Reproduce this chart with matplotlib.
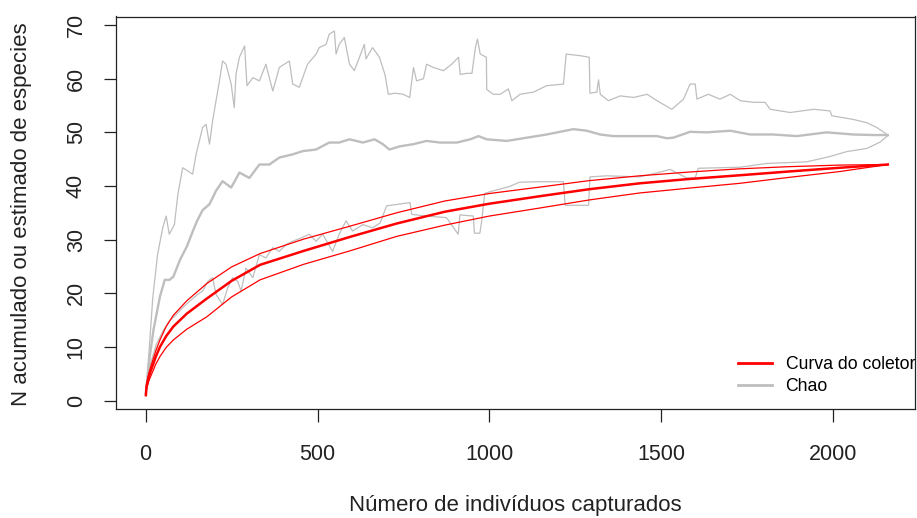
import matplotlib
matplotlib.use("Agg")
import matplotlib.pyplot as plt
from matplotlib.lines import Line2D

# ── dados ─────────────────────────────────────────────
# curva do coletor (média e limites)
COL_X = [1, 3, 10, 15, 23, 30, 42, 60, 81, 120, 178, 250, 333, 460, 594, 730, 870, 1000, 1147, 1290,
         1437, 1580, 1728, 1870, 2019, 2158]
COL_MEAN = [1.0, 2.6, 4.5, 5.5, 6.9, 8.2, 10.0, 12.0, 13.8, 16.2, 19.0, 22.3, 25.3, 27.9, 30.5, 33.0, 35.2, 36.7, 38.1, 39.4,
            40.5, 41.3, 42.0, 42.7, 43.4, 44.0]
COL_UPPER = [1.0, 3.2, 5.2, 6.3, 7.9, 9.3, 11.3, 13.8, 15.9, 18.6, 21.8, 24.9, 27.4, 30.1, 32.5, 35.0, 37.2, 38.6, 39.8, 41.0,
             41.9, 42.6, 43.2, 43.6, 43.9, 44.0]
COL_LOWER = [1.0, 2.2, 3.7, 4.5, 5.7, 6.8, 8.2, 9.9, 11.3, 13.3, 15.6, 19.3, 22.5, 25.4, 27.9, 30.6, 32.7, 34.4, 35.9, 37.4,
             38.7, 39.6, 40.5, 41.6, 42.7, 44.0]

# Chao - estimativa média
CHAO_X = [1, 3, 12, 23, 42, 56, 70, 81, 100, 120, 139, 150, 166, 186, 205, 224, 249, 273, 302, 331,
          360, 389, 428, 457, 496, 534, 563, 593, 632, 666, 690, 709, 740, 779, 817, 856, 905, 944, 968, 992,
          1050, 1108, 1166, 1244, 1283, 1322, 1360, 1419, 1487, 1515, 1534, 1583, 1631, 1700, 1758, 1825, 1893, 1980, 2058, 2116,
          2158]
CHAO_MEAN = [1.4, 2.6, 8.0, 13.1, 19.4, 22.5, 22.5, 23.1, 26.2, 28.7, 31.8, 33.5, 35.5, 36.6, 39.1, 40.9, 39.7, 42.5, 41.5, 44.0,
             44.0, 45.3, 45.9, 46.5, 46.8, 48.1, 48.1, 48.7, 48.1, 48.7, 47.8, 46.8, 47.4, 47.8, 48.4, 48.1, 48.1, 48.7, 49.3, 48.7,
             48.4, 49.0, 49.6, 50.6, 50.3, 49.6, 49.3, 49.3, 49.3, 48.9, 49.0, 50.1, 50.0, 50.3, 49.6, 49.6, 49.3, 50.0, 49.6, 49.5,
             49.5]

# Chao - limite superior
CHAO_UP_X = [1, 11, 21, 35, 50, 60, 69, 84, 94, 108, 123, 137, 147, 166, 176, 186, 195, 205, 215, 224,
             234, 249, 258, 263, 273, 288, 295, 312, 331, 350, 370, 389, 418, 428, 447, 471, 496, 505, 525, 534,
             549, 554, 563, 578, 593, 607, 622, 636, 641, 660, 680, 696, 706, 725, 749, 768, 779, 788, 808, 817,
             837, 866, 890, 910, 915, 934, 949, 959, 965, 973, 991, 992, 1011, 1031, 1055, 1065, 1089, 1128, 1166, 1215,
             1223, 1263, 1290, 1292, 1312, 1317, 1322, 1346, 1380, 1419, 1458, 1487, 1530, 1564, 1583, 1598, 1603, 1636, 1670, 1700,
             1729, 1767, 1801, 1816, 1874, 1942, 1990, 1995, 2058, 2097, 2126, 2158]
CHAO_UP = [1.4, 9.8, 19.1, 27.2, 32.2, 34.4, 31.0, 32.8, 38.4, 43.4, 42.8, 42.2, 45.9, 50.9, 51.5, 47.8, 52.1, 55.9, 59.6, 63.3,
           62.7, 59.0, 54.6, 60.8, 64.0, 66.1, 58.7, 60.2, 59.6, 62.7, 57.7, 62.1, 63.3, 59.0, 58.4, 62.7, 64.6, 65.8, 66.4, 68.3,
           68.9, 64.6, 66.4, 67.7, 62.7, 61.5, 64.0, 66.4, 63.7, 65.8, 64.0, 60.8, 57.1, 57.3, 57.1, 56.5, 62.1, 59.6, 60.0, 62.7,
           62.1, 61.5, 62.7, 64.0, 60.8, 61.0, 61.0, 65.8, 67.4, 64.6, 64.0, 58.0, 57.1, 57.1, 58.1, 55.9, 57.1, 57.5, 58.7, 59.0,
           64.6, 64.3, 64.0, 57.3, 57.5, 59.8, 57.1, 55.9, 56.8, 56.5, 57.1, 55.9, 54.3, 56.2, 59.0, 59.0, 56.2, 57.1, 56.2, 57.1,
           55.9, 55.6, 55.6, 54.3, 53.7, 54.3, 54.0, 53.1, 52.4, 51.8, 50.9, 49.5]

# Chao - limite inferior
CHAO_LO_X = [1, 11, 31, 50, 69, 89, 108, 128, 152, 166, 181, 195, 205, 224, 239, 253, 268, 278, 292, 312,
             331, 350, 370, 389, 409, 428, 452, 476, 496, 515, 544, 563, 583, 602, 632, 660, 682, 701, 769, 774,
             817, 875, 909, 914, 953, 956, 972, 977, 986, 1000, 1058, 1087, 1147, 1215, 1220, 1288, 1292, 1341, 1437, 1496,
             1525, 1573, 1598, 1607, 1729, 1806, 1922, 1990, 2038, 2097, 2136, 2158]
CHAO_LO = [1.4, 6.1, 10.4, 12.9, 14.8, 16.0, 17.3, 18.5, 19.8, 20.4, 22.2, 22.9, 19.8, 17.9, 21.0, 22.9, 22.2, 20.4, 24.7, 22.9,
           27.2, 26.6, 28.5, 27.8, 29.1, 29.7, 30.3, 31.0, 29.7, 31.0, 27.8, 31.0, 33.5, 31.6, 32.8, 32.2, 33.1, 36.3, 36.9, 34.7,
           34.4, 34.1, 31.0, 34.6, 34.4, 31.2, 31.2, 33.3, 38.6, 38.9, 39.9, 40.7, 40.8, 40.8, 36.4, 36.4, 41.7, 41.9, 41.7, 42.6,
           43.1, 41.5, 41.5, 43.3, 43.5, 44.2, 44.5, 45.5, 46.4, 47.0, 48.2, 49.4]

X_TICKS = [0, 500, 1000, 1500, 2000]
Y_TICKS = [0, 10, 20, 30, 40, 50, 60, 70]
X_LABEL = "Número de indivíduos capturados"
Y_LABEL = "N acumulado ou estimado de especies"
LEGEND_LABELS = ["Curva do coletor", "Chao"]

RED = "#ff0000"
GRAY = "#bebebe"
W, H = 917, 518

plt.rcParams["font.family"] = ["Liberation Sans", "DejaVu Sans"]


def main():
    fig = plt.figure(figsize=(W / 100, H / 100), dpi=100)
    # caixa do gráfico em pixels: x 116-915, y 16.5-409
    ax = fig.add_axes([116 / W, 1 - 409 / H, (915 - 116) / W, (409 - 16.5) / H])

    # Chao (cinza)
    ax.plot(CHAO_UP_X, CHAO_UP, color=GRAY, lw=0.9)
    ax.plot(CHAO_LO_X, CHAO_LO, color=GRAY, lw=0.9)
    ax.plot(CHAO_X, CHAO_MEAN, color=GRAY, lw=1.7)

    # curva do coletor (vermelho)
    ax.plot(COL_X, COL_UPPER, color=RED, lw=0.9)
    ax.plot(COL_X, COL_LOWER, color=RED, lw=0.9)
    ax.plot(COL_X, COL_MEAN, color=RED, lw=1.8)

    ax.set_xlim(-85.8, 2237)
    ax.set_ylim(-1.58, 71.6)
    ax.set_xticks(X_TICKS)
    ax.set_yticks(Y_TICKS)
    ax.tick_params(axis="both", length=9, width=0.9, labelsize=15.5, colors="#222222")
    ax.tick_params(axis="x", pad=16)
    ax.tick_params(axis="y", pad=12, labelrotation=90)
    for lab in ax.get_yticklabels():
        lab.set_va("center")
    for sp in ax.spines.values():
        sp.set_linewidth(0.9)
        sp.set_color("#222222")

    fig.text((116 + 915) / 2 / W, 1 - 505 / H, X_LABEL, ha="center", va="center",
             fontsize=16, color="#222222")
    fig.text(22 / W, 1 - 214 / H, Y_LABEL, ha="center", va="center", rotation=90,
             fontsize=16, color="#222222")

    handles = [Line2D([], [], color=RED, lw=2), Line2D([], [], color=GRAY, lw=2)]
    ax.legend(handles, LEGEND_LABELS, loc="upper left", frameon=False,
              bbox_to_anchor=(738 / W, 1 - 356 / H), bbox_transform=fig.transFigure,
              borderaxespad=0, borderpad=0, handlelength=1.9, handletextpad=0.8,
              labelspacing=0.3, fontsize=12.7)

    fig.savefig("out.png", dpi=100)
    plt.close(fig)


if __name__ == "__main__":
    main()
